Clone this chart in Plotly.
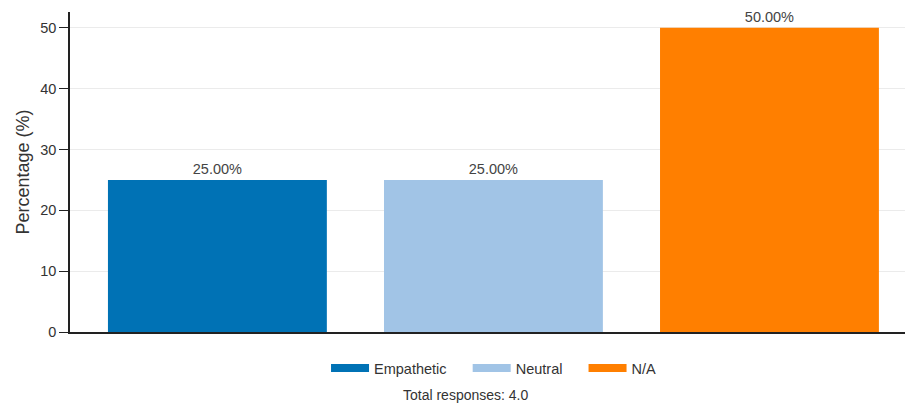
import plotly.graph_objects as go

categories = ["Empathetic", "Neutral", "N/A"]
percentages = [25.0, 25.0, 50.0]
colors = ["#0072B5", "#A1C4E6", "#FF7F00"]
total_responses = 4.0
y_ticks = [0, 10, 20, 30, 40, 50]

FONT = "Liberation Sans, Arial, sans-serif"
TXT = "#333333"
PAD = "\u00a0" * 4  # extra spacing between legend entries

fig = go.Figure()
for cat, val, col in zip(categories, percentages, colors):
    fig.add_trace(go.Bar(
        x=[cat], y=[val], name=cat, marker=dict(color=col, line=dict(width=0)),
        text=[f"{val:.2f}%"], textposition="outside",
        textfont=dict(family=FONT, size=14.5, color="#444444"),
        cliponaxis=False, showlegend=False,
    ))
# legend entries drawn as wide rectangular swatches
for i, (cat, col) in enumerate(zip(categories, colors)):
    label = cat + (PAD if i < len(categories) - 1 else "")
    fig.add_trace(go.Scatter(
        x=[None], y=[None], mode="lines", name=label,
        line=dict(color=col, width=8), showlegend=True, hoverinfo="skip",
    ))

# page has an 8px body margin; margins below compensate for it
fig.update_layout(
    width=913, height=406,
    margin=dict(l=62, r=8, t=4, b=82),
    paper_bgcolor="white", plot_bgcolor="white",
    font=dict(family=FONT, size=14, color=TXT),
    barmode="relative", bargap=0.207,
    showlegend=True,
    legend=dict(orientation="h", x=0.503, xanchor="center", y=-0.1125, yanchor="middle",
                font=dict(size=14.5, color=TXT), traceorder="normal", itemwidth=38),
    annotations=[dict(text=f"Total responses: {total_responses}", xref="paper", yref="paper",
                      x=0.4698, y=-0.197, xanchor="center", yanchor="middle", showarrow=False,
                      font=dict(size=14, color=TXT))],
)
fig.update_xaxes(range=[-0.534, 2.52], showticklabels=False, ticks="", showline=True,
                 linecolor="#222222", linewidth=1.5, showgrid=False, zeroline=False)
fig.update_yaxes(range=[0, 52.6], tickvals=y_ticks, ticks="outside", ticklen=9, tickcolor="#222222",
                 tickwidth=1.2, showline=True, linecolor="#222222", linewidth=1.5,
                 showgrid=True, gridcolor="#EBEBEB", zeroline=False,
                 title=dict(text="Percentage (%)", font=dict(size=18, color=TXT), standoff=6),
                 tickfont=dict(size=14.5, color=TXT), automargin=False)

fig.write_html("out.html")
